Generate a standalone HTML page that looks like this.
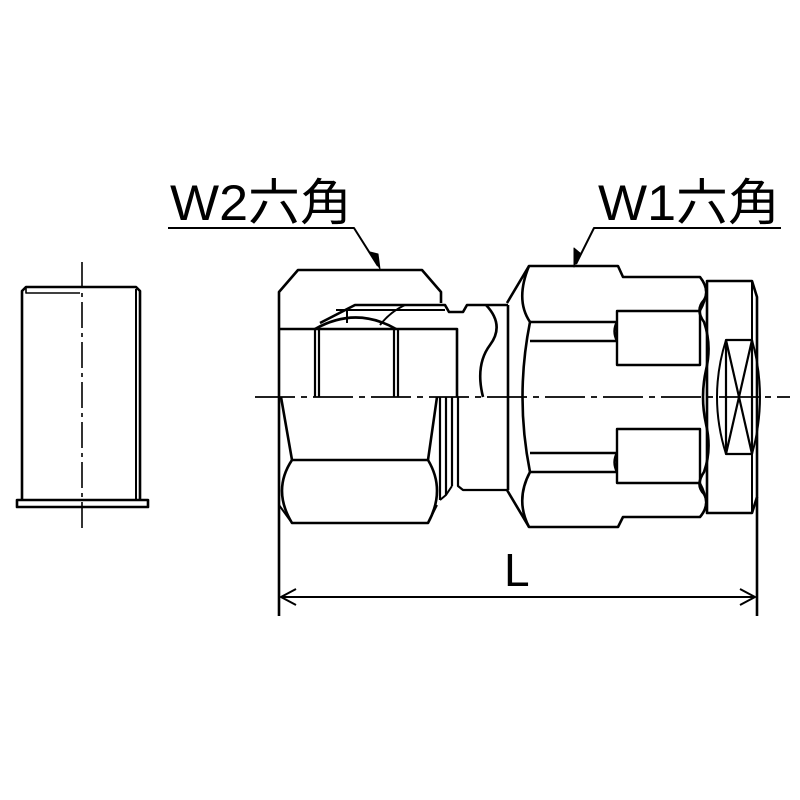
<!DOCTYPE html>
<html><head><meta charset="utf-8"><style>
html,body{margin:0;padding:0;background:#fff}
svg{display:block}
text{font-family:"Liberation Sans","Noto Sans CJK JP",sans-serif;fill:#000}
</style></head><body>
<svg width="800" height="800" viewBox="0 0 800 800" xmlns="http://www.w3.org/2000/svg">
<g fill="none" stroke="#000" stroke-width="2.6" stroke-linejoin="round">
<!-- labels -->
<text x="170" y="220" font-size="50" textLength="182" lengthAdjust="spacingAndGlyphs" stroke="none">W2六角</text>
<text x="598" y="220" font-size="50" textLength="182" lengthAdjust="spacingAndGlyphs" stroke="none">W1六角</text>
<path d="M168 228 H354 L378 266" stroke-width="2"/>
<path d="M781 228 H594 L576 264" stroke-width="2"/>
<path d="M380 269 L370 252 L378 254 Z" fill="#000" stroke-width="1"/>
<path d="M574 267 L574 248 L580 253 Z" fill="#000" stroke-width="1"/>

<!-- left sleeve -->
<path d="M22 500 V291 L26 287 H136 L140 291 V500"/>
<path d="M136 289 V500" stroke-width="2"/>
<path d="M26 288 L26 293 H80" stroke-width="1.6"/>
<path d="M17 500 H148 V507 H17 Z"/>
<path d="M82 262 V530" stroke-width="1.6" stroke-dasharray="26,5,4,5"/>

<!-- centerline -->
<path d="M255 397 H790" stroke-width="1.8" stroke-dasharray="40,6,6,6"/>

<!-- left nut -->
<path d="M279 616 V292 L298 270 H422 L441 292 V303"/>
<path d="M279 329 H457 V397"/>
<path d="M315 329 V397 M319 329 V397 M394 329 V397 M398 329 V397" stroke-width="2.2"/>
<path d="M315 329 Q356 306 396 329"/>
<path d="M320 323 L355 305 H445 L449 312 H463 L467 305 H508"/>
<path d="M345 310 L355 305 M347 310 V323 M336 310 H445 M405 305 Q390 312 380 325" stroke-width="2"/>
<path d="M281 397 L292 460 M437 397 L428 460"/>
<path d="M292 460 H428 Q446 490 428 523 H292 Q272 490 292 460 Z"/>
<path d="M279 505 L292 523 M437 505 L428 523" stroke-width="2"/>
<path d="M440 397 V500 M446 397 V495 M452 397 V486 M458 397 V486 L463 490 H508" stroke-width="2.2"/>
<path d="M440 500 L446 495 L452 486" stroke-width="2"/>
<path d="M486 305 Q505 325 490 345 Q475 365 483 397"/>
<path d="M508 305 V490"/>

<!-- right nut -->
<path d="M507 303 L529 266 H618 L623 277 H700 Q710 290 704 300 Q695 310 704 322 Q712 345 706 370 Q700 397 706 424 Q712 450 704 472 Q695 485 704 494 Q710 505 700 517 H623 L618 527 H529 L507 490"/>
<path d="M529 266 Q515 300 530 322 Q515 397 530 472 Q515 500 529 527"/>
<path d="M530 322 H617 M530 341 H617 M617 322 Q612 331 617 341 M617 311 V365 H700 V311 Z" stroke-width="2.4"/>
<path d="M530 453 H617 M530 472 H617 M617 453 Q612 462 617 472 M617 429 V483 H700 V429 Z" stroke-width="2.4"/>
<path d="M700 277 Q712 290 700 311 M700 517 Q712 505 700 483" stroke-width="2"/>
<!-- cap -->
<path d="M707 281 H752 L757 297 V497 L752 513 H707 Z"/>
<path d="M752 281 V513" stroke-width="2"/>
<path d="M757 497 V616"/>
<path d="M726 340 H752 V454 H726 Z M726 340 L752 454 M752 340 L726 454" stroke-width="2.2"/>
<path d="M726 340 Q708 397 726 454 M752 340 Q768 397 752 454" stroke-width="2"/>

<!-- dimension -->
<path d="M281 597 H755" stroke-width="2"/>
<path d="M296 589 L281 597 L296 605 M740 589 L755 597 L740 605" stroke-width="2"/>
<text x="504" y="586" font-size="46" stroke="none">L</text>
</g>
</svg>
</body></html>
